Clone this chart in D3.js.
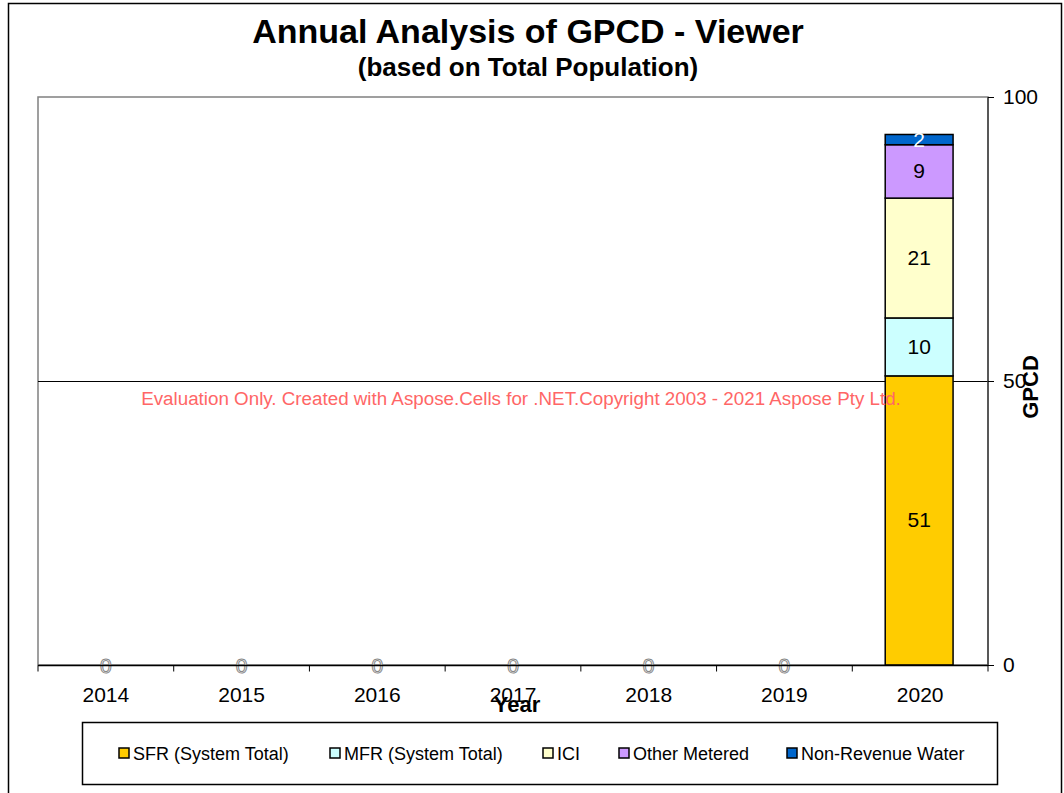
<!DOCTYPE html>
<html>
<head>
<meta charset="utf-8">
<script src="https://cdn.jsdelivr.net/npm/d3@7"></script>
<style>
  body { margin: 0; background: #fff; }
  text { font-family: Arial, "Liberation Sans", sans-serif; }
</style>
</head>
<body>
<script>
// datos del grafico
var years = ["2014", "2015", "2016", "2017", "2018", "2019", "2020"];
var seriesNames = ["SFR (System Total)", "MFR (System Total)", "ICI", "Other Metered", "Non-Revenue Water"];
var seriesColors = ["#ffcc00", "#ccffff", "#ffffcc", "#cc99ff", "#0066cc"];
var sfr   = [0, 0, 0, 0, 0, 0, 50.9];
var mfr   = [0, 0, 0, 0, 0, 0, 10.2];
var ici   = [0, 0, 0, 0, 0, 0, 21.1];
var other = [0, 0, 0, 0, 0, 0, 9.4];
var nrw   = [0, 0, 0, 0, 0, 0, 1.8];
var yTicks = [0, 50, 100];

var W = 1064, H = 793;
var svg = d3.select("body").append("svg").attr("width", W).attr("height", H);

// marco exterior
svg.append("rect").attr("x", 8.5).attr("y", 3.5).attr("width", 1053).attr("height", 800)
  .attr("fill", "none").attr("stroke", "#000").attr("stroke-width", 1.5);

var plot = { left: 38, top: 97, right: 988, bottom: 665 };

var x = d3.scaleBand().domain(years).range([plot.left, plot.right]).paddingInner(0).paddingOuter(0);
var y = d3.scaleLinear().domain([0, 100]).range([plot.bottom, plot.top]);

// tabla para el apilado
var table = years.map(function(yr, i) {
  return { year: yr, s0: sfr[i], s1: mfr[i], s2: ici[i], s3: other[i], s4: nrw[i] };
});
var stack = d3.stack().keys(["s0", "s1", "s2", "s3", "s4"])(table);

// area del grafico
svg.append("rect").attr("x", plot.left).attr("y", plot.top)
  .attr("width", plot.right - plot.left).attr("height", plot.bottom - plot.top)
  .attr("fill", "#fff").attr("stroke", "#808080").attr("stroke-width", 1.5);

// linea de cuadricula
svg.selectAll(".grid").data(yTicks.filter(function(t) { return t > 0 && t < 100; }))
  .enter().append("line")
  .attr("x1", plot.left).attr("x2", plot.right)
  .attr("y1", function(d) { return y(d) + 0.5; }).attr("y2", function(d) { return y(d) + 0.5; })
  .attr("stroke", "#000").attr("stroke-width", 1);

// barras
var barW = x.bandwidth() * 0.5;
var groups = svg.selectAll(".layer").data(stack).enter().append("g")
  .attr("fill", function(d, i) { return seriesColors[i]; });
groups.selectAll("rect").data(function(d) { return d.filter(function(p) { return p[1] - p[0] > 0; }); })
  .enter().append("rect")
  .attr("x", function(d) { return x(d.data.year) + (x.bandwidth() - barW) / 2 - 1; })
  .attr("width", barW)
  .attr("y", function(d) { return y(d[1]); })
  .attr("height", function(d) { return y(d[0]) - y(d[1]); })
  .attr("stroke", "#000").attr("stroke-width", 1.5);

// etiquetas de valor
var fmt = d3.format(".0f");
stack.forEach(function(layer, li) {
  layer.forEach(function(p) {
    var v = p[1] - p[0];
    if (v <= 0) return;
    svg.append("text")
      .attr("x", x(p.data.year) + x.bandwidth() / 2 - 1)
      .attr("y", (y(p[0]) + y(p[1])) / 2 + 7)
      .attr("text-anchor", "middle").attr("font-size", 21)
      .attr("fill", li === 4 ? "#fff" : "#000")
      .text(fmt(v));
  });
});

// marca de agua (encima de las barras)
svg.append("text").attr("x", 521).attr("y", 405).attr("text-anchor", "middle")
  .attr("fill", "#ff6666").attr("font-size", 18.8)
  .text("Evaluation Only. Created with Aspose.Cells for .NET.Copyright 2003 - 2021 Aspose Pty Ltd.");

// etiquetas "0" de anios vacios
svg.selectAll(".zero").data(table.filter(function(d) { return d.s0 + d.s1 + d.s2 + d.s3 + d.s4 === 0; }))
  .enter().append("text")
  .attr("x", function(d) { return x(d.year) + x.bandwidth() / 2; })
  .attr("y", plot.bottom + 8)
  .attr("text-anchor", "middle").attr("font-size", 21)
  .attr("fill", "#fff").attr("stroke", "#888").attr("stroke-width", 1)
  .text("0");

// eje x
var xAxisG = svg.append("g").attr("transform", "translate(0," + (plot.bottom + 0.5) + ")");
xAxisG.append("line").attr("x1", plot.left).attr("x2", plot.right).attr("stroke", "#000").attr("stroke-width", 1.5);
var bounds = years.map(function(d) { return x(d); }).concat([plot.right]);
xAxisG.selectAll(".tk").data(bounds).enter().append("line")
  .attr("x1", function(d) { return d; }).attr("x2", function(d) { return d; })
  .attr("y1", 0).attr("y2", 6).attr("stroke", "#000");
xAxisG.selectAll(".lbl").data(years).enter().append("text")
  .attr("x", function(d) { return x(d) + x.bandwidth() / 2; })
  .attr("y", 36).attr("text-anchor", "middle").attr("font-size", 21).attr("fill", "#000")
  .text(function(d) { return d; });

// eje y a la derecha
var yAxisG = svg.append("g").attr("transform", "translate(" + plot.right + ",0)");
yAxisG.append("line").attr("y1", plot.top).attr("y2", plot.bottom).attr("stroke", "#404040").attr("stroke-width", 1.5);
yAxisG.selectAll(".tk").data(yTicks).enter().append("line")
  .attr("x1", 0).attr("x2", 6)
  .attr("y1", function(d) { return y(d) + 0.5; }).attr("y2", function(d) { return y(d) + 0.5; })
  .attr("stroke", "#000");
yAxisG.selectAll(".lbl").data(yTicks).enter().append("text")
  .attr("x", 15).attr("y", function(d) { return y(d) + 7; })
  .attr("font-size", 21).attr("fill", "#000")
  .text(function(d) { return d; });

// titulos
svg.append("text").attr("x", 528).attr("y", 43).attr("text-anchor", "middle")
  .attr("font-size", 34).attr("font-weight", "bold").text("Annual Analysis of GPCD - Viewer");
svg.append("text").attr("x", 528).attr("y", 76).attr("text-anchor", "middle")
  .attr("font-size", 26).attr("font-weight", "bold").text("(based on Total Population)");
svg.append("text").attr("x", 517).attr("y", 712).attr("text-anchor", "middle")
  .attr("font-size", 22).attr("font-weight", "bold").text("Year");
svg.append("text").attr("transform", "translate(1038,387) rotate(-90)").attr("text-anchor", "middle")
  .attr("font-size", 22).attr("font-weight", "bold").text("GPCD");

// leyenda
svg.append("rect").attr("x", 82.5).attr("y", 722.5).attr("width", 915).attr("height", 62)
  .attr("fill", "#fff").attr("stroke", "#000").attr("stroke-width", 1.5);
var legendX = [119, 330, 543, 619, 787];
var leg = svg.selectAll(".leg").data(seriesNames).enter().append("g")
  .attr("transform", function(d, i) { return "translate(" + legendX[i] + ",753)"; });
leg.append("rect").attr("x", 0).attr("y", -5).attr("width", 10).attr("height", 10)
  .attr("fill", function(d, i) { return seriesColors[i]; }).attr("stroke", "#000").attr("stroke-width", 1.5);
leg.append("text").attr("x", 14).attr("y", 6.5).attr("font-size", 18).text(function(d) { return d; });
</script>
</body>
</html>
